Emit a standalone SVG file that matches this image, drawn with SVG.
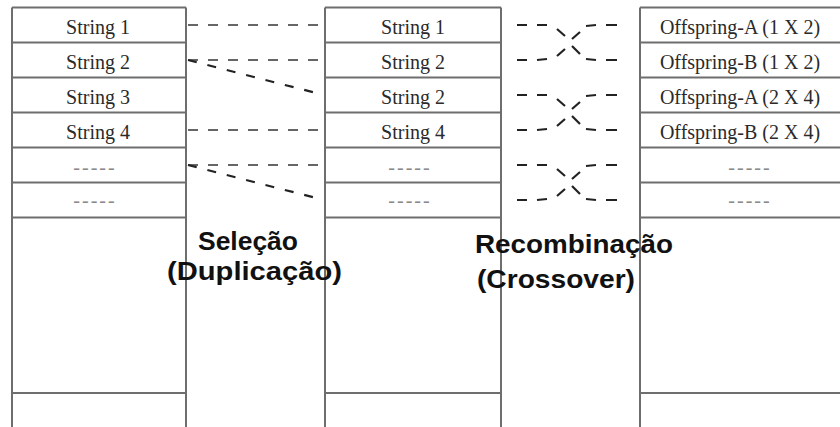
<svg xmlns="http://www.w3.org/2000/svg" width="840" height="427" viewBox="0 0 840 427">
  <style>
    .frame { stroke: #6e6e6e; stroke-width: 2; fill: none; }
    .cell { font-family: "Liberation Serif", "Times New Roman", serif; font-size: 20px; fill: #2a2a2a; text-anchor: middle; }
    .dots { font-family: "Liberation Serif", serif; font-size: 20px; fill: #8a8a8a; text-anchor: middle; letter-spacing: 2px; }
    .label { font-family: "Liberation Sans", Arial, sans-serif; font-size: 26px; font-weight: bold; fill: #111; }
    .keep { stroke: #666; stroke-width: 2; stroke-dasharray: 10 10; fill: none; }
    .dup { stroke: #222; stroke-width: 2.2; stroke-dasharray: 9 11; fill: none; }
    .cross { stroke: #222; stroke-width: 2.2; fill: none; }
  </style>

  <defs>
    <!-- crossover of two neighbouring rows: top row at y=0, bottom row at y=35 -->
    <path id="crossover" class="cross" d="
      M517 0H527M537 0H547
      M517 35H527M537 35L547 34
      M557 4L565 11M572 21L580 29
      M557 31L565 24M572 14L580 7
      M586 1L596 0M606 0H617
      M586 34L596 35M606 35H617"/>
  </defs>

  <rect width="840" height="427" fill="#fff"/>

  <!-- Column 1: initial population -->
  <g id="population">
    <path class="frame" d="M12 7.5V427M186 7.5V427M12 7.5H186M12 42.5H186M12 77.5H186M12 112.5H186M12 147.5H186M12 182.5H186M12 217.5H186M12 393H186"/>
    <text class="cell" x="98" y="34">String 1</text>
    <text class="cell" x="98" y="69">String 2</text>
    <text class="cell" x="98" y="104">String 3</text>
    <text class="cell" x="98" y="139">String 4</text>
    <text class="dots" x="95" y="173.5">-----</text>
    <text class="dots" x="95" y="207">-----</text>
  </g>

  <!-- Column 2: after selection -->
  <g id="selected">
    <path class="frame" d="M325 7.5V427M501 7.5V427M325 7.5H501M325 42.5H501M325 77.5H501M325 112.5H501M325 147.5H501M325 182.5H501M325 217.5H501M325 393H501"/>
    <text class="cell" x="413" y="34">String 1</text>
    <text class="cell" x="413" y="69">String 2</text>
    <text class="cell" x="413" y="104">String 2</text>
    <text class="cell" x="413" y="139">String 4</text>
    <text class="dots" x="410" y="173.5">-----</text>
    <text class="dots" x="410" y="207">-----</text>
  </g>

  <!-- Column 3: offspring -->
  <g id="offspring">
    <path class="frame" d="M640 7.5V427M640 7.5H840M640 42.5H840M640 77.5H840M640 112.5H840M640 147.5H840M640 182.5H840M640 217.5H840M640 393H840"/>
    <text class="cell" x="740" y="34">Offspring-A (1 X 2)</text>
    <text class="cell" x="740" y="69">Offspring-B (1 X 2)</text>
    <text class="cell" x="740" y="104">Offspring-A (2 X 4)</text>
    <text class="cell" x="740" y="139">Offspring-B (2 X 4)</text>
    <text class="dots" x="750" y="173.5">-----</text>
    <text class="dots" x="750" y="207">-----</text>
  </g>

  <!-- Connectors -->
  <g id="connectors">
    <!-- selection: copies and duplications -->
    <path class="keep" d="M188 25H323"/>
    <path class="keep" d="M188 60H323"/>
    <path class="dup" d="M188 60L320 94"/>
    <path class="keep" d="M188 130H323"/>
    <path class="keep" d="M188 165H323"/>
    <path class="dup" d="M188 165L320 199"/>
    <!-- crossover between pairs -->
    <use href="#crossover" y="25"/>
    <use href="#crossover" y="95"/>
    <use href="#crossover" y="165"/>
  </g>

  <!-- Stage labels -->
  <g id="stage-selection">
    <text class="label" x="198" y="250" textLength="100" lengthAdjust="spacingAndGlyphs">Seleção</text>
    <text class="label" x="167" y="280" textLength="175" lengthAdjust="spacingAndGlyphs">(Duplicação)</text>
  </g>
  <g id="stage-crossover">
    <text class="label" x="475" y="253" textLength="198" lengthAdjust="spacingAndGlyphs">Recombinação</text>
    <text class="label" x="477" y="288" textLength="158" lengthAdjust="spacingAndGlyphs">(Crossover)</text>
  </g>
</svg>
